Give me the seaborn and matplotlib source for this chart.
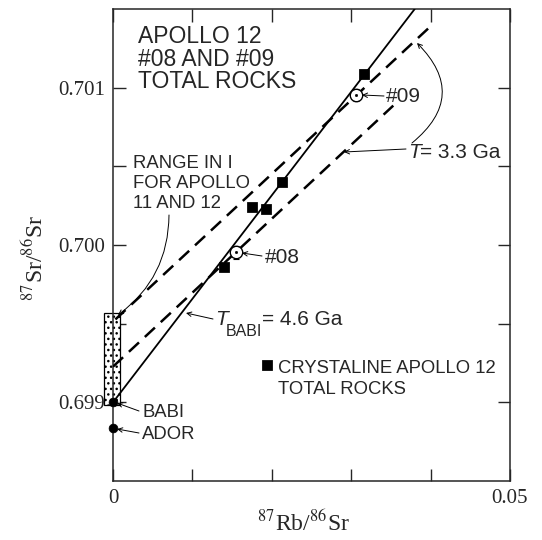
import matplotlib
matplotlib.use("Agg")
import matplotlib.pyplot as plt
import matplotlib.transforms as mtransforms
from matplotlib.patches import Rectangle
import seaborn as sns
import pandas as pd

# ---------------- data ----------------
rock_x = [0.01396, 0.01752, 0.01933, 0.02130, 0.03161]
rock_y = [0.699858, 0.700243, 0.700227, 0.700402, 0.701087]

sample_names = ["#08", "#09"]
sample_x = [0.01547, 0.03065]
sample_y = [0.699954, 0.700954]
sample_err = [0.00004, 0.00004]

ref_names = ["BABI", "ADOR"]
ref_x = [0.0, 0.0]
ref_y = [0.69900, 0.698835]

babi_line_x = [0.0, 0.0380]
babi_line_y = [0.69900, 0.70150]

upper_dash_x = [0.0003, 0.0401]
upper_dash_y = [0.699527, 0.701395]
lower_dash_x = [0.0, 0.0353]
lower_dash_y = [0.699227, 0.700886]

range_x = [-0.0011, 0.0009]
range_y = [0.69898, 0.69957]

legend_x = [0.01937]
legend_y = [0.699237]

x_ticks = [0.0, 0.01, 0.02, 0.03, 0.04, 0.05]
x_tick_labels = ["0", "", "", "", "", "0.05"]
y_ticks = [0.699, 0.6995, 0.700, 0.7005, 0.701]
y_tick_labels = ["0.699", "", "0.700", "", "0.701"]

# ---------------- style ----------------
sns.set_style("ticks")
plt.rcParams["font.family"] = ["Liberation Sans", "DejaVu Sans"]
plt.rcParams["mathtext.fontset"] = "stix"
plt.rcParams["hatch.linewidth"] = 1.0

fig = plt.figure(figsize=(5.42, 5.40), dpi=100)
ax = fig.add_axes([113 / 542, 1 - 481 / 540, 397 / 542, 472 / 540])
ref = mtransforms.Affine2D().scale(1 / 542, -1 / 540).translate(0, 1) + fig.transFigure

ax.set_xlim(0, 0.05)
ax.set_ylim(0.6985, 0.7015)

# range box
ax.add_patch(Rectangle((range_x[0], range_y[0]), range_x[1] - range_x[0],
                       range_y[1] - range_y[0], facecolor="white", edgecolor="black",
                       hatch="...", lw=0.9, clip_on=False, zorder=1.5))

# lines
sns.lineplot(x=babi_line_x, y=babi_line_y, ax=ax, color="black", lw=1.3, zorder=3)
sns.lineplot(x=upper_dash_x, y=upper_dash_y, ax=ax, color="black", lw=1.8,
             zorder=3).lines[-1].set_dashes((5.5, 3.2))
sns.lineplot(x=lower_dash_x, y=lower_dash_y, ax=ax, color="black", lw=1.8,
             zorder=3).lines[-1].set_dashes((5.5, 3.2))

# squares
rocks = pd.DataFrame({"x": rock_x, "y": rock_y})
sns.scatterplot(data=rocks, x="x", y="y", ax=ax, marker="s", s=48, color="black",
                edgecolor="black", zorder=5)

# open circles with error bars
ax.errorbar(sample_x, sample_y, yerr=sample_err, fmt="none", ecolor="black",
            elinewidth=0.8, capsize=2, capthick=0.8, zorder=5)
samples = pd.DataFrame({"x": sample_x, "y": sample_y})
sns.scatterplot(data=samples, x="x", y="y", ax=ax, marker="o", s=80,
                facecolor="white", edgecolor="black", linewidth=1.0, zorder=6)
sns.scatterplot(data=samples, x="x", y="y", ax=ax, marker="o", s=4,
                color="black", edgecolor="black", zorder=7)

# BABI / ADOR
refs = pd.DataFrame({"x": ref_x, "y": ref_y})
sns.scatterplot(data=refs, x="x", y="y", ax=ax, marker="o", s=40, color="black",
                edgecolor="black", clip_on=False, zorder=8)

# legend square
sns.scatterplot(x=legend_x, y=legend_y, ax=ax, marker="s", s=48, color="black",
                edgecolor="black", zorder=5)

# axes
ax.set_xticks(x_ticks)
ax.set_xticklabels(x_tick_labels)
ax.set_yticks(y_ticks)
ax.set_yticklabels(y_tick_labels)
ax.tick_params(direction="in", length=9, width=1.0, top=True, right=True,
               labelsize=15, pad=6)
for lab in ax.get_xticklabels() + ax.get_yticklabels():
    lab.set_fontfamily("Liberation Serif")
for sp in ax.spines.values():
    sp.set_linewidth(1.1)
ax.set_xlabel("")
ax.set_ylabel("")

# axis labels
fig.text(303, 523, r"$^{87}$Rb/$^{86}$Sr", transform=ref, ha="center", va="center",
         fontsize=17, family="Liberation Serif")
fig.text(35, 258, r"$^{87}$Sr/$^{86}$Sr", transform=ref, ha="center", va="center",
         fontsize=17, family="Liberation Serif", rotation=90)

# text annotations
def lines(xp, base, spacing, texts, size):
    for i, t in enumerate(texts):
        fig.text(xp, base + i * spacing, t, transform=ref, fontsize=size,
                 ha="left", va="baseline")

lines(138, 43, 22.5, ["APOLLO 12", "#08 AND #09", "TOTAL ROCKS"], 16.5)
lines(133, 168, 20, ["RANGE IN I", "FOR APOLLO", "11 AND 12"], 13.3)
lines(278, 373, 21, ["CRYSTALINE APOLLO 12", "TOTAL ROCKS"], 13.3)
fig.text(142, 417, "BABI", transform=ref, fontsize=13.3, va="baseline")
fig.text(142, 439, "ADOR", transform=ref, fontsize=13.3, va="baseline")
fig.text(265, 263, "#08", transform=ref, fontsize=15, va="baseline")
fig.text(386, 102, "#09", transform=ref, fontsize=15, va="baseline")
fig.text(408, 158, "T", transform=ref, fontsize=15, va="baseline", style="italic")
fig.text(420, 158, "= 3.3 Ga", transform=ref, fontsize=15, va="baseline")
fig.text(215, 325, "T", transform=ref, fontsize=15, va="baseline", style="italic")
fig.text(226, 336, "BABI", transform=ref, fontsize=11.5, va="baseline")
fig.text(262, 325, "= 4.6 Ga", transform=ref, fontsize=15, va="baseline")

ap = dict(arrowstyle="->", lw=0.7, color="black", shrinkA=0, shrinkB=0,
          mutation_scale=8)
def arrow(x0, y0, x1, y1, rad=0.0):
    d = dict(ap)
    d["connectionstyle"] = f"arc3,rad={rad}"
    fig.add_artist(matplotlib.text.Annotation("", xy=(x1, y1), xytext=(x0, y0),
                   xycoords=ref, textcoords=ref, arrowprops=d))

arrow(262, 256, 242, 253)
arrow(384, 96, 362, 95)
arrow(139, 411, 117, 403)
arrow(139, 433, 117, 429)
arrow(213, 319, 186, 313)
arrow(406, 149, 344, 152)
arrow(412, 143, 417, 43, rad=0.55)
arrow(169, 215, 118, 315, rad=-0.25)

fig.savefig("out.png", dpi=100)
